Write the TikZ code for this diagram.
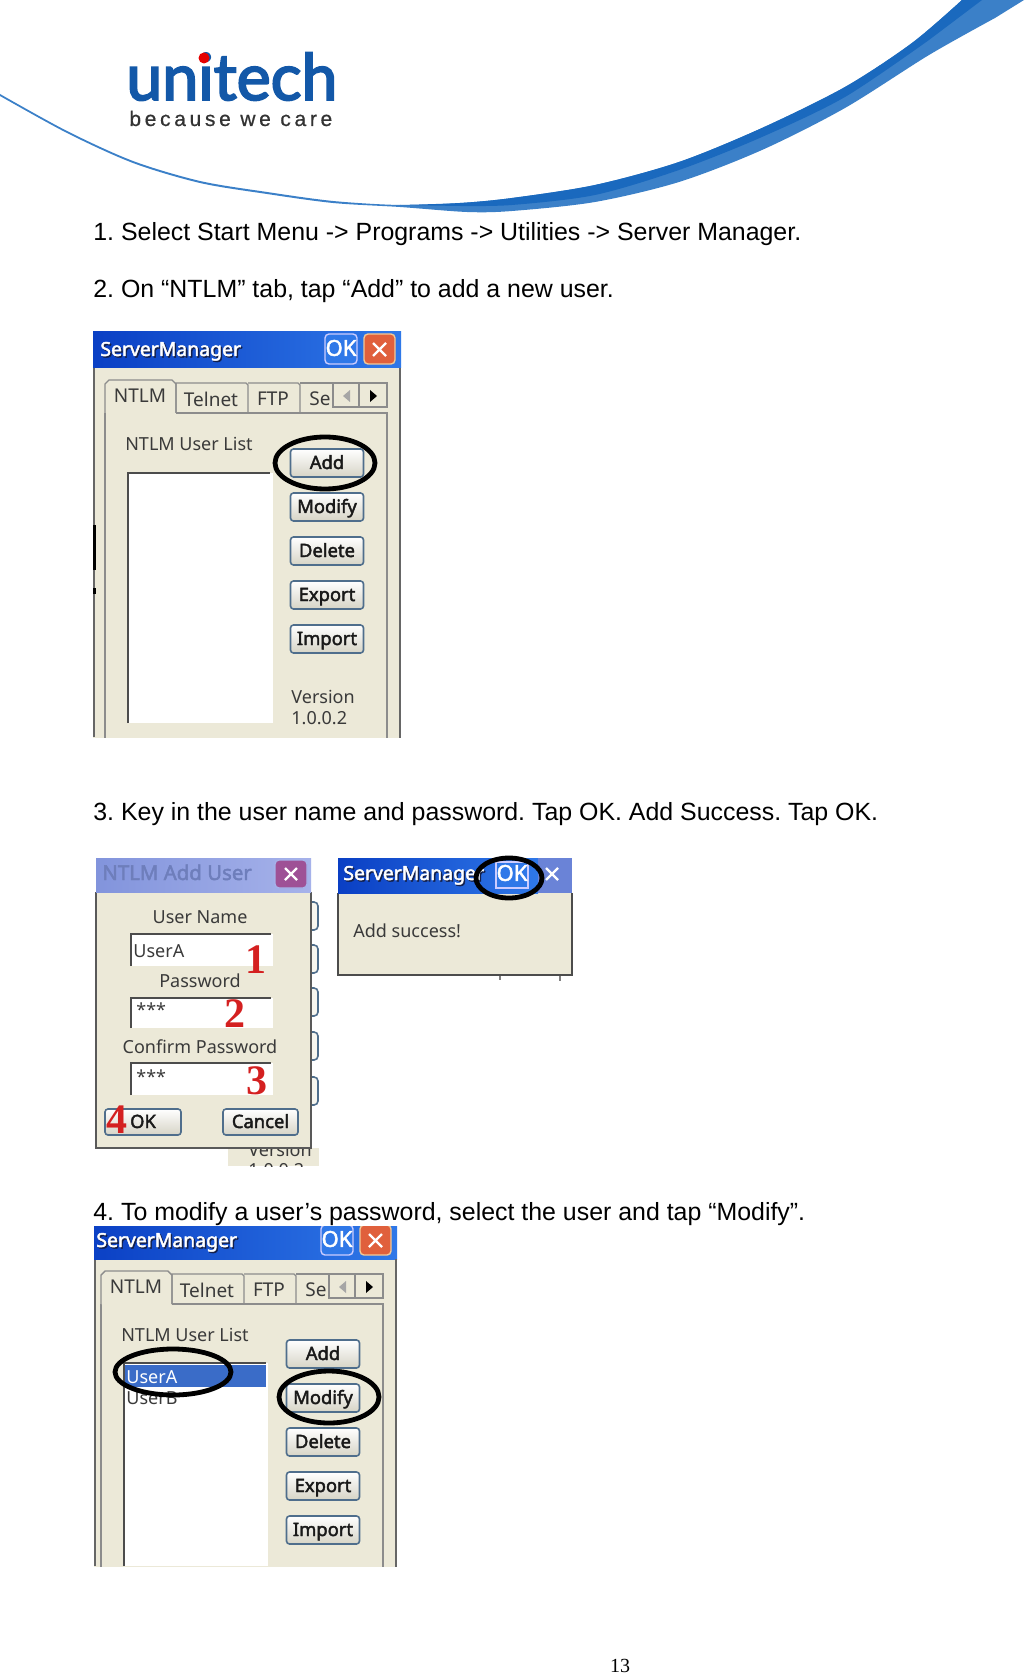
\documentclass[tikz,border=0pt]{standalone}
\usepackage{fontspec}
\setmainfont{Liberation Sans}
\newfontfamily\screenfont{Noto Sans}
\newfontfamily\screenbold[FakeBold=2.2]{Noto Sans}
\newfontfamily\logofont[FakeBold=3]{Lato}
\newfontfamily\mottofont[LetterSpace=17.5,FakeBold=0.6]{Liberation Sans}
\newfontfamily\serifnum{Liberation Serif}
\definecolor{wall}{HTML}{ECE9D8}
\definecolor{ribbon}{HTML}{1A69BE}
\definecolor{ribbonlight}{HTML}{3B80C8}
\definecolor{logoblue}{HTML}{1358A8}
\definecolor{titledark}{HTML}{0A3FC4}
\definecolor{titlelight}{HTML}{2F78E8}
\definecolor{titleshade}{HTML}{14204A}
\definecolor{paledark}{HTML}{8294DC}
\definecolor{palelight}{HTML}{A6B2EA}
\definecolor{edgeblue}{HTML}{4F6E8C}
\definecolor{screenink}{HTML}{3A3A3A}
\definecolor{marknum}{HTML}{D42020}
\definecolor{pickrow}{HTML}{3A6CC8}
\definecolor{closered}{HTML}{E0603C}
\tikzset{
  pagetext/.style={anchor=base west,inner sep=0pt,font=\fontsize{12.45}{14}\selectfont,text=black},
  screentext/.style={inner sep=0pt,font=\screenfont\fontsize{9}{11}\selectfont,text=screenink},
  tabtext/.style={screentext,font=\screenfont\fontsize{9.5}{11}\selectfont},
  titletext/.style={anchor=west,inner sep=0pt,text height=7pt,text depth=2pt,font=\screenbold\fontsize{9.7}{11}\selectfont},
  pushbtn/.style={draw=edgeblue,line width=0.8pt,rounded corners=1.5pt,top color=white,bottom color=wall!80!gray,
    minimum width=36.5pt,minimum height=14pt,inner sep=0pt,text height=7.5pt,text depth=1.5pt,text=black!90,font=\screenbold\fontsize{9.2}{11}\selectfont},
  redmark/.style={inner sep=0pt,text=marknum,font=\serifnum\bfseries\fontsize{21}{21}\selectfont},
  markring/.style={draw=black,line width=2.4pt},
  sunkenedge/.style={draw=black!70,line width=0.9pt},
  paneline/.style={draw=black!45,line width=0.7pt}
}
\newcommand{\shadetext}[1]{\makebox[0pt][l]{\kern0.7pt\raisebox{-0.7pt}{\textcolor{titleshade}{#1}}}\textcolor{white}{#1}}
% the list window, used twice: #1 name, #2 shift, #3 and #4 corners that crop it
\newcommand{\serverwin}[4]{
\begin{scope}
\clip #3 rectangle #4;
\begin{scope}[shift={#2}]
\fill[wall] (90,332) rectangle (401,760);
\shade[left color=titledark,right color=titlelight] (90,332) rectangle (401,368);
\node[titletext] (title#1) at (100,351) {\shadetext{ServerManager}};
\draw[white!80!blue,line width=0.7pt,fill=titlelight,rounded corners=2pt] (325,334) rectangle (357,364);
\node[inner sep=0pt,text=white,font=\screenbold\fontsize{11}{11}\selectfont] (okbox#1) at (341,348) {OK};
\draw[wall!70!orange,line width=0.7pt,fill=closered,rounded corners=2pt] (364,334) rectangle (395,364);
\draw[white,line width=1.2pt] (373,343) -- (386,356) (386,343) -- (373,356);
\draw[black!60,line width=0.8pt] (400,368) -- (400,760);
% tabs
\draw[paneline] (105,413) -- (105,760) (176,413) -- (387,413) -- (387,760);
\draw[paneline,fill=wall] (105,413) -- (105,384) -- (109,380) -- (172,380) -- (176,384) -- (176,413);
\draw[paneline] (176,413) -- (176,383) -- (246,383) -- (248,385) -- (248,413);
\draw[paneline] (248,383) -- (298,383) -- (300,385) -- (300,413);
\draw[paneline] (300,383) -- (335,383);
\node[tabtext] (ntlm#1) at (140,396) {NTLM};
\node[tabtext] (telnet#1) at (211,399) {Telnet};
\node[tabtext] (ftp#1) at (273,399) {FTP};
\node[tabtext,anchor=west] (se#1) at (309,399) {Se};
\draw[paneline,fill=wall] (333,383) rectangle (359,407);
\draw[paneline,fill=wall] (359,383) rectangle (387,407);
\fill[black!35] (350,390) -- (343,396) -- (350,402) -- cycle;
\fill[black] (370,390) -- (377,396) -- (370,402) -- cycle;
\node[screentext] (listcap#1) at (189,444) {NTLM User List};
\foreach \btn/\ypos in {Add/463,Modify/507,Delete/551,Export/595,Import/639}
  \node[pushbtn] (\btn#1) at (327,\ypos) {\btn};
\end{scope}
\end{scope}
}

\begin{document}
\frenchspacing
\begin{tikzpicture}[x=0.5pt,y=-0.5pt]
\useasboundingbox (0,0) rectangle (1024,1673);
\fill[white] (0,0) rectangle (1024,1673);
% header ribbon
\fill[ribbonlight] plot[smooth] coordinates {(0,94) (67,131) (133,161) (200,181) (267,192) (333,201) (400,205) (460,203) (512,198) (595,185) (679,162) (762,128) (845,87) (912,43) (962,0)}
  -- (1024,0) -- plot[smooth] coordinates {(995,18) (929,55) (845,108) (762,150) (679,182) (595,202) (512,211) (467,212) (400,207) (333,203) (267,194) (200,183) (133,163) (67,133) (0,96)} -- cycle;
\fill[ribbon] plot[smooth] coordinates {(400,205) (460,203) (512,198) (595,185) (679,162) (762,128) (845,87) (912,43) (962,0)}
  -- (982,0) -- plot[smooth] coordinates {(929,40) (845,97) (762,137) (679,170) (595,195) (512,205) (460,206)} -- cycle;
\node[anchor=base west,inner sep=0pt,text=logoblue,font=\logofont\fontsize{32.2}{33}\selectfont] (logo) at (126,100) {unitech};
\fill[red!90!black] (204,58) circle (5.5);
\node[anchor=base west,inner sep=0pt,text=black!80,font=\mottofont\fontsize{10.5}{11}\selectfont] (motto) at (129,126) {because we care};
% steps
\node[pagetext] (stepa) at (93,241) {1. Select Start Menu -> Programs -> Utilities -> Server Manager.};
\node[pagetext] (stepb) at (93,298) {2. On “NTLM” tab, tap “Add” to add a new user.};
\node[pagetext] (stepc) at (93,820) {3. Key in the user name and password. Tap OK. Add Success. Tap OK.};
\node[pagetext] (stepd) at (93,1220) {4. To modify a user’s password, select the user and tap “Modify”.};
\node[anchor=base,inner sep=0pt,font=\serifnum\fontsize{10}{10}\selectfont] (pagenum) at (620,1672) {13};
% first window
\serverwin{one}{(0,0)}{(93,332)}{(401,737)}
\fill[white] (128,473) rectangle (273,723);
\draw[sunkenedge] (128,723) -- (128,473) -- (270,473);
\draw[black!60,line width=0.8pt] (94,368) -- (94,737);
\draw[black,line width=1.5pt] (94,525) -- (94,570) (94,588) -- (94,594);
\node[screentext,anchor=west] (verone) at (291,697) {Version};
\node[screentext,anchor=west] (relone) at (291,718) {1.0.0.2};
\draw[markring] (325,463) ellipse (50 and 26);
% window behind the add dialog
\begin{scope}
\clip (228,1148) rectangle (319,1166);
\fill[wall] (228,1148) rectangle (319,1166);
\node[screentext,anchor=west] (verback) at (248,1150) {Version};
\node[screentext,anchor=west] (relback) at (248,1170) {1.0.0.2};
\end{scope}
\foreach \ypos in {902,945,988,1032,1077}
  \draw[edgeblue,line width=0.8pt,fill=wall!40,rounded corners=2pt] (305,\ypos) -- (318,\ypos) -- (318,\ypos+28) -- (305,\ypos+28);
% add user dialog
\fill[wall] (96,892) rectangle (311,1148);
\draw[black!65,line width=0.9pt] (96,892) -- (96,1148) -- (311,1148) -- (311,892);
\shade[left color=paledark,right color=palelight] (96,858) rectangle (311,892);
\node[titletext,text=paledark!85!black,font=\screenbold\fontsize{10.2}{11}\selectfont] (addtitle) at (102,875) {NTLM Add User};
\draw[palelight,line width=0.7pt,fill=purple!45!paledark,rounded corners=2pt] (275,860) rectangle (307,888);
\draw[white,line width=1.2pt] (285,868) -- (297,880) (297,868) -- (285,880);
\node[screentext] (username) at (200,917) {User Name};
\node[screentext] (password) at (200,981) {Password};
\node[screentext] (confirm) at (200,1047) {Confirm Password};
\foreach \ytop/\ybot in {934/966,998/1028,1063/1095}{
  \fill[white] (131,\ytop) rectangle (273,\ybot);
  \draw[sunkenedge] (131,\ybot) -- (131,\ytop) -- (271,\ytop);
}
\node[screentext,anchor=west] (userval) at (133,951) {UserA};
\node[screentext,anchor=west] (passval) at (136,1010) {***};
\node[screentext,anchor=west] (confval) at (136,1077) {***};
\node[pushbtn,minimum width=38pt,minimum height=13pt] (okbtn) at (143,1122) {OK};
\node[pushbtn,minimum width=37.5pt,minimum height=13pt] (cancelbtn) at (260.5,1122) {Cancel};
\node[redmark] (numa) at (256,960) {1};
\node[redmark] (numb) at (235,1014) {2};
\node[redmark] (numc) at (257,1081) {3};
\node[redmark] (numd) at (117,1120) {4};
% success dialog
\draw[black!50,line width=1pt] (500,976) -- (500,980) (560,976) -- (560,981);
\fill[wall] (338,893) rectangle (572,975);
\draw[black!70,line width=0.9pt] (338,893) -- (338,975) -- (572,975) -- (572,893);
\shade[left color=titledark,right color=titlelight] (338,858) rectangle (538,893);
\fill[paledark!80!titledark] (538,858) rectangle (572,893);
\node[titletext] (donetitle) at (343,875) {\shadetext{ServerManager}};
\draw[white!80!blue,line width=0.7pt,fill=titlelight] (496,862) rectangle (528,888);
\node[inner sep=0pt,text=white,font=\screenbold\fontsize{11}{11}\selectfont] (donebox) at (512,873) {OK};
\draw[white,line width=1.2pt] (546,868) -- (558,880) (558,868) -- (546,880);
\node[screentext,anchor=west] (donemsg) at (353,931) {Add success!};
\draw[markring] (509,878) ellipse (33 and 20);
% second list window
\serverwin{two}{(-4,891)}{(94,1226)}{(398,1566)}
\fill[white] (123,1363) rectangle (268,1566);
\fill[pickrow] (125,1365) rectangle (266,1387);
\draw[sunkenedge] (124,1566) -- (124,1363) -- (266,1363);
\node[screentext,anchor=west,text=white] (usera) at (126,1377) {UserA};
\node[screentext,anchor=west] (userb) at (126,1398) {UserB};
\draw[black!60,line width=0.8pt] (95,1260) -- (95,1566);
\draw[markring] (173,1372) ellipse (58 and 23);
\draw[markring] (329,1397) ellipse (50 and 26);
\end{tikzpicture}
\end{document}
